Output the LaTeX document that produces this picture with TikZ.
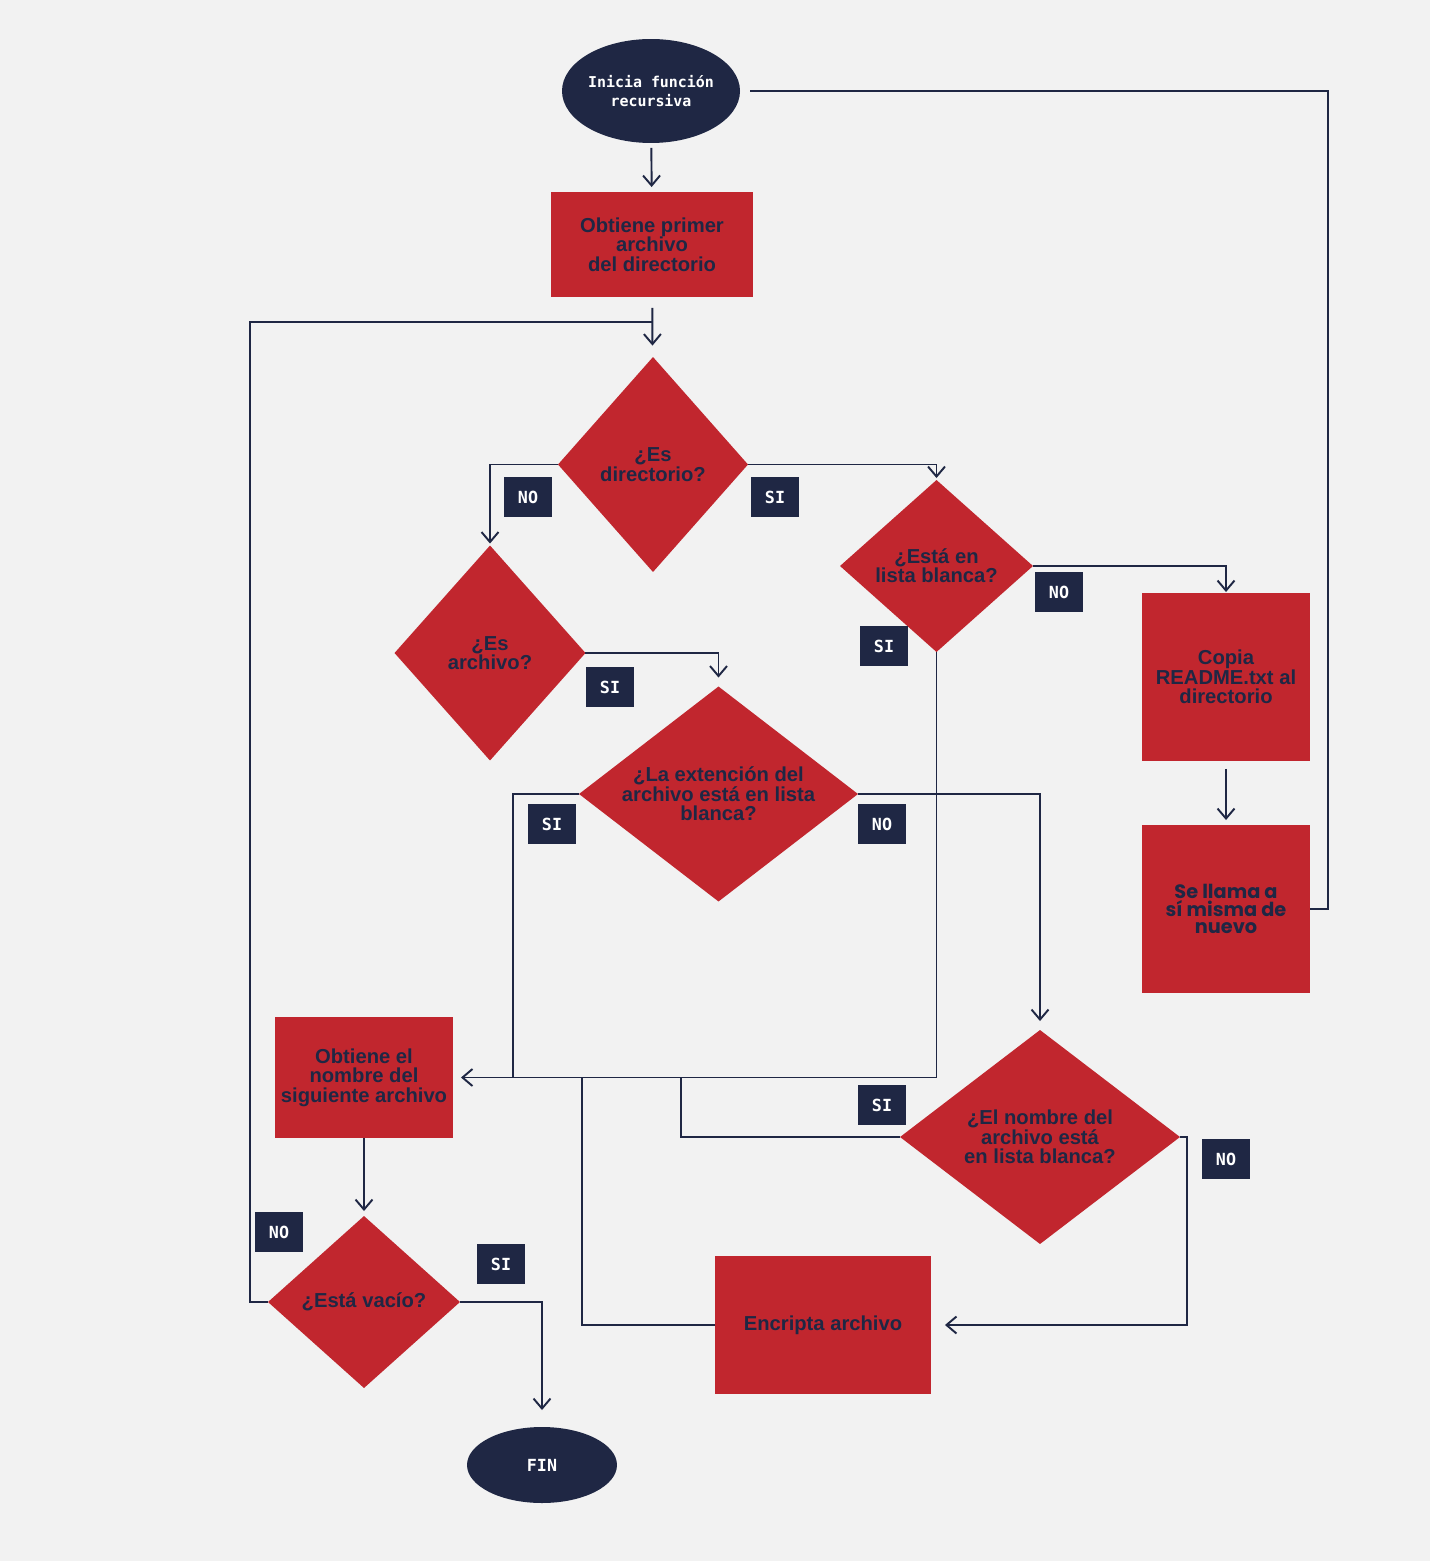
\documentclass[tikz,border=0pt]{standalone}
\usepackage{fontspec}
\setmainfont{Liberation Sans}
\newfontfamily\monofont{DejaVu Sans Mono}[BoldFont={DejaVu Sans Mono Bold}]
\newfontfamily\roundfont{Poppins}
\usetikzlibrary{shapes.geometric, arrows.meta}
\definecolor{flowred}{RGB}{193,38,46}
\definecolor{flownavy}{RGB}{31,39,68}
\definecolor{paper}{RGB}{242,242,242}

\tikzset{
    process/.style={rectangle, fill=flowred, text=flownavy, align=center, inner sep=0pt, outer sep=0pt, font=\fontsize{11.5}{11}\selectfont\bfseries},
    decision/.style={diamond, aspect=1.3, fill=flowred, text=flownavy, align=center, inner sep=0pt, outer sep=0pt, font=\fontsize{11.5}{11}\selectfont\bfseries},
    terminal/.style={ellipse, fill=flownavy, text=white, align=center, inner sep=0pt, outer sep=0pt, font=\monofont\fontsize{8.5}{11}\selectfont\bfseries},
    tag/.style={rectangle, fill=flownavy, text=white, minimum width=0.96cm, minimum height=0.8cm, inner sep=0pt, font=\monofont\fontsize{9.5}{9.5}\selectfont\bfseries},
    line/.style={draw=flownavy, line width=1.1pt},
    flow/.style={line, -{Straight Barb[length=2mm,width=3.4mm]}}
}

\begin{document}
\begin{tikzpicture}[x=0.02cm, y=-0.02cm]
    % Background
    \fill[paper] (0,0) rectangle (1430,1561);

    % Start and first file
    \node[terminal, minimum width=3.36cm, minimum height=2.08cm] (start) at (651,91) {Inicia función\\recursiva};
    \node[process, minimum width=4.04cm, minimum height=2.1cm] (first) at (652,244.5) {Obtiene primer\\archivo\\del directorio};

    % Directory or file
    \node[decision, minimum width=3.8cm, minimum height=4.3cm] (isdir) at (653,464.5) {¿Es\\directorio?};
    \node[decision, minimum width=3.82cm, minimum height=4.3cm] (isfile) at (490,653) {¿Es\\archivo?};
    \node[decision, minimum width=3.86cm, minimum height=3.44cm] (dirwhite) at (936.5,566) {¿Está en\\lista blanca?};
    \node[decision, minimum width=5.58cm, minimum height=4.3cm] (extwhite) at (718.5,794) {¿La extención del\\archivo está en lista\\blanca?};

    % Recursion branch
    \node[process, minimum width=3.36cm, minimum height=3.36cm] (readme) at (1226,677) {Copia\\README.txt al\\directorio};
    \node[process, minimum width=3.36cm, minimum height=3.36cm, font=\roundfont\fontsize{11}{10}\selectfont\bfseries] (recall) at (1226,909) {Se llama a\\sí misma de\\nuevo};

    % Name check and encryption
    \node[decision, minimum width=5.6cm, minimum height=4.28cm] (namewhite) at (1040,1137) {¿El nombre del\\archivo está\\en lista blanca?};
    \node[process, minimum width=4.32cm, minimum height=2.76cm] (encrypt) at (823,1325) {Encripta archivo};

    % Next file and end
    \node[process, minimum width=3.56cm, minimum height=2.42cm] (next) at (364,1077.5) {Obtiene el\\nombre del\\siguiente archivo};
    \node[decision, minimum width=3.84cm, minimum height=3.44cm] (empty) at (364,1302) {¿Está vacío?};
    \node[terminal, minimum width=3cm, minimum height=1.52cm, font=\monofont\fontsize{9.5}{11}\selectfont\bfseries] (fin) at (542,1465) {FIN};

    % Bend points
    \coordinate (ret1) at (1328,909);
    \coordinate (ret2) at (750,91);
    \coordinate (join1) at (513,1077);
    \coordinate (join2) at (681,1077);
    \coordinate (join3) at (582,1077);
    \coordinate (nobend) at (1187,1137);
    \coordinate (loop) at (250,322);
    \coordinate (merge) at (653,322);

    % Connectors
    \draw[flow, shorten <=0.1cm, shorten >=0.1cm] (start) -- (first);
    \draw[flow, shorten <=0.22cm, shorten >=0.24cm] (first) -- (isdir);
    \draw[flow, shorten >=0.04cm] (isdir.west) -| (isfile.north);
    \draw[flow, shorten >=0.04cm] (isdir.east) -| (dirwhite.north);
    \draw[flow, shorten >=0.18cm] (isfile.east) -| (extwhite.north);
    \draw[flow, shorten >=0.02cm] (dirwhite.east) -| (readme.north);
    \draw[flow, shorten <=0.16cm, shorten >=0.1cm] (readme) -- (recall);
    \draw[line] (recall.east) -- (ret1) |- (ret2);
    \draw[flow, shorten >=0.16cm] (dirwhite.south) |- (next.east);
    \draw[line] (extwhite.west) -| (join1);
    \draw[flow, shorten >=0.18cm] (extwhite.east) -| (namewhite.north);
    \draw[line] (namewhite.west) -| (join2);
    \draw[flow, shorten >=0.28cm] (namewhite.east) -- (nobend) |- (encrypt.east);
    \draw[line] (encrypt.west) -| (join3);
    \draw[flow, shorten >=0.1cm] (next) -- (empty);
    \draw[line] (empty.west) -| (loop) -- (merge);
    \draw[flow, shorten >=0.34cm] (empty.east) -| (fin.north);

    % Answer tags
    \node[tag] (dirno) at (528,497) {NO};
    \node[tag] (dirsi) at (775,497) {SI};
    \node[tag] (filesi) at (610,687) {SI};
    \node[tag] (whiteno) at (1059,592) {NO};
    \node[tag] (whitesi) at (884,646) {SI};
    \node[tag] (extsi) at (552,824) {SI};
    \node[tag] (extno) at (882,824) {NO};
    \node[tag] (namesi) at (882,1105) {SI};
    \node[tag] (nameno) at (1226,1159) {NO};
    \node[tag] (emptyno) at (279,1232) {NO};
    \node[tag] (emptysi) at (501,1264) {SI};
\end{tikzpicture}
\end{document}
